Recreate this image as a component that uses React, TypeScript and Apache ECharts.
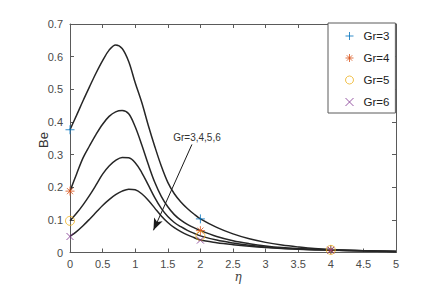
import React, { useEffect, useRef } from "react";
import * as echarts from "echarts";

const eta = [0, 0.1, 0.2, 0.3, 0.4, 0.5, 0.6, 0.7, 0.8, 0.9, 1.0, 1.1, 1.2, 1.3, 1.4, 1.5, 1.6, 1.7, 1.8, 1.9, 2.0, 2.25, 2.5, 2.75, 3.0, 3.25, 3.5, 3.75, 4.0, 4.5, 5.0];
const gr3 = [0.376, 0.42, 0.465, 0.508, 0.55, 0.588, 0.62, 0.636, 0.625, 0.585, 0.52, 0.46, 0.39, 0.325, 0.265, 0.215, 0.18, 0.155, 0.135, 0.118, 0.103, 0.077, 0.057, 0.042, 0.031, 0.023, 0.017, 0.012, 0.009, 0.005, 0.003];
const gr4 = [0.188, 0.24, 0.29, 0.327, 0.362, 0.393, 0.417, 0.431, 0.435, 0.425, 0.385, 0.33, 0.27, 0.215, 0.172, 0.14, 0.116, 0.099, 0.086, 0.076, 0.067, 0.049, 0.036, 0.027, 0.02, 0.015, 0.012, 0.01, 0.008, 0.005, 0.003];
const gr5 = [0.097, 0.12, 0.146, 0.175, 0.207, 0.24, 0.265, 0.282, 0.291, 0.29, 0.275, 0.245, 0.207, 0.168, 0.135, 0.11, 0.092, 0.079, 0.068, 0.059, 0.051, 0.038, 0.029, 0.022, 0.017, 0.013, 0.011, 0.009, 0.008, 0.005, 0.003];
const gr6 = [0.049, 0.064, 0.082, 0.102, 0.123, 0.144, 0.162, 0.177, 0.188, 0.194, 0.192, 0.18, 0.16, 0.136, 0.112, 0.092, 0.076, 0.064, 0.054, 0.046, 0.038, 0.03, 0.024, 0.019, 0.015, 0.012, 0.01, 0.008, 0.007, 0.005, 0.003];
const markerEta = [0, 2, 4];
const seriesNames = ["Gr=3", "Gr=4", "Gr=5", "Gr=6"];
const seriesValues = [gr3, gr4, gr5, gr6];
const xTicks = { min: 0, max: 5, interval: 0.5 };
const yTicks = { min: 0, max: 0.7, interval: 0.1 };

const colors = ["#0072BD", "#D95319", "#EDB120", "#7E2F8E"];
const symbols = [
  "path://M5,0L5,10M0,5L10,5",
  "path://M5,0L5,10M0,5L10,5M1.6,1.6L8.4,8.4M8.4,1.6L1.6,8.4",
  "circle",
  "path://M0,0L10,10M10,0L0,10",
];
const symbolSizes = [9, 9, 9, 7];

export default function App() {
  const ref = useRef<HTMLDivElement>(null);
  useEffect(() => {
    if (!ref.current) return;
    const chart = echarts.init(ref.current, undefined, { renderer: "svg" });
    const lineColor = "#5a5a5a";
    const labelColor = "#4a4a4a";
    const font = "Liberation Sans, Arial, sans-serif";
    const axisCommon = {
      type: "value" as const,
      axisLine: { show: true, onZero: false, lineStyle: { color: lineColor, width: 1 } },
      axisTick: { show: true, inside: true, length: 4, lineStyle: { color: lineColor } },
      splitLine: { show: false },
    };
    const lineSeries = seriesValues.map((vals, i) => ({
      type: "line",
      name: seriesNames[i] + " curve",
      data: eta.map((e, j) => [e, vals[j]]),
      showSymbol: false,
      smooth: 0.35,
      lineStyle: { color: "#262626", width: 1.5 },
      z: 2,
      silent: true,
      ...(i === 0
        ? {
            markLine: {
              silent: true,
              symbol: ["none", "arrow"],
              symbolSize: [7, 12],
              label: { show: false },
              lineStyle: { color: "#1a1a1a", width: 1, type: "solid" },
              data: [[{ coord: [1.87, 0.331] }, { coord: [1.28, 0.068] }]],
            },
          }
        : {}),
    }));
    const markerSeries = seriesValues.map((vals, i) => ({
      type: "scatter",
      name: seriesNames[i],
      data: markerEta.map((e) => [e, vals[eta.indexOf(e)]]),
      symbol: symbols[i],
      symbolSize: symbolSizes[i],
      itemStyle: {
        color: "rgba(0,0,0,0)",
        borderColor: colors[i],
        borderWidth: 1,
      },
      z: 3,
    }));
    chart.setOption({
      animation: false,
      backgroundColor: "#ffffff",
      grid: { left: 70, right: 41, top: 24, bottom: 42.5 },
      legend: {
        data: seriesNames,
        orient: "vertical",
        left: 328,
        top: 23,
        itemWidth: 8,
        itemHeight: 8,
        itemGap: 10,
        padding: [7, 6, 5, 17],
        backgroundColor: "#ffffff",
        borderColor: "#5a5a5a",
        borderWidth: 1,
        borderRadius: 0,
        itemStyle: { borderWidth: 1 },
        textStyle: { color: "#222", fontSize: 11.5, fontFamily: font, padding: [0, 0, 0, 5] },
      },
      xAxis: [
        {
          ...axisCommon,
          position: "bottom",
          ...xTicks,
          axisLabel: { color: labelColor, fontSize: 11, fontFamily: font, margin: 6 },
        },
        {
          ...axisCommon,
          position: "top",
          ...xTicks,
          axisLabel: { show: false },
        },
      ],
      yAxis: [
        {
          ...axisCommon,
          position: "left",
          ...yTicks,
          axisLabel: { color: labelColor, fontSize: 11, fontFamily: font, margin: 7 },
        },
        {
          ...axisCommon,
          position: "right",
          ...yTicks,
          axisLabel: { show: false },
        },
      ],
      graphic: [
        {
          type: "text",
          x: 43,
          y: 140,
          rotation: Math.PI / 2,
          style: {
            text: "Be",
            fill: "#333",
            fontSize: 13,
            fontFamily: font,
            textAlign: "center",
            textVerticalAlign: "middle",
          },
        },
        {
          type: "text",
          x: 238,
          y: 277,
          style: {
            text: "η",
            fill: "#444",
            fontSize: 12,
            fontStyle: "italic",
            fontFamily: "DejaVu Serif, serif",
            textAlign: "center",
            textVerticalAlign: "middle",
          },
        },
        {
          type: "text",
          x: 197,
          y: 137,
          style: {
            text: "Gr=3,4,5,6",
            fill: "#333",
            fontSize: 10,
            fontFamily: font,
            textAlign: "center",
            textVerticalAlign: "middle",
          },
        },
      ],
      series: [...lineSeries, ...markerSeries],
    });
    return () => chart.dispose();
  }, []);
  return (
    <div
      ref={ref}
      style={{ position: "fixed", left: 0, top: 0, width: 437, height: 295 }}
    />
  );
}
